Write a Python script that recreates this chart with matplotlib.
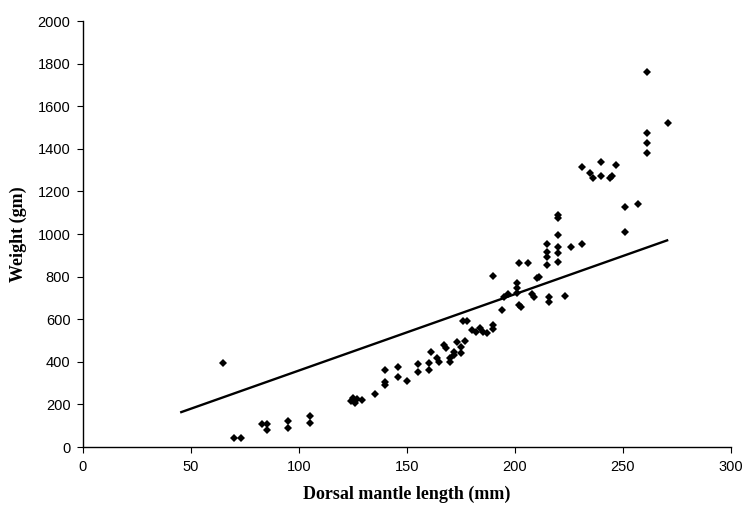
import matplotlib
matplotlib.use("Agg")
import matplotlib.pyplot as plt

length_mm = [65, 70, 73, 83, 85, 85, 95, 95, 105, 105,
             124, 125, 126, 127, 129, 135, 140, 140, 140, 146, 146, 150,
             155, 155, 160, 160, 161, 164, 165, 167, 168, 170, 170, 172, 172, 173,
             175, 175, 176, 178, 177, 180, 182, 184, 185, 187, 190, 190, 190,
             194, 195, 197, 201, 201, 201, 202, 206, 202, 203, 208, 209, 210, 211,
             215, 215, 215, 215, 216, 216, 220, 220, 220, 220, 220, 220, 223,
             226, 231, 231, 235, 236, 240, 240, 244, 245, 247, 251, 257, 251,
             261, 261, 261, 261, 271]
weight_gm = [395, 40, 40, 110, 110, 80, 120, 90, 145, 115,
             215, 230, 205, 225, 220, 250, 360, 305, 290, 375, 330, 310,
             390, 350, 395, 360, 445, 420, 400, 480, 465, 420, 400, 430, 445, 495,
             440, 470, 590, 590, 500, 550, 540, 560, 540, 535, 575, 555, 805,
             645, 705, 720, 770, 745, 725, 865, 865, 665, 655, 720, 705, 795, 800,
             955, 915, 890, 855, 705, 680, 1090, 1075, 995, 940, 910, 870, 710,
             940, 955, 1315, 1285, 1265, 1340, 1270, 1265, 1270, 1325, 1125, 1140, 1010,
             1760, 1475, 1425, 1380, 1520]

fit_x = [45, 271]
fit_y = [162, 972]

x_ticks = [0, 50, 100, 150, 200, 250, 300]
y_ticks = [0, 200, 400, 600, 800, 1000, 1200, 1400, 1600, 1800, 2000]

fig = plt.figure(figsize=(7.49, 5.16), dpi=100)
ax = fig.add_axes([0.1108, 0.1337, 0.865, 0.8256])

ax.plot(fit_x, fit_y, color="black", lw=1.7, solid_capstyle="butt", zorder=2)
ax.plot(length_mm, weight_gm, linestyle="none", marker="D", markersize=4.2,
        color="black", markeredgewidth=0, zorder=3)

ax.set_xlim(0, 300)
ax.set_ylim(0, 2000)
ax.set_xticks(x_ticks)
ax.set_yticks(y_ticks)
ax.set_xticklabels([str(v) for v in x_ticks], family="Liberation Sans", fontsize=10.5)
ax.set_yticklabels([str(v) for v in y_ticks], family="Liberation Sans", fontsize=10.5)
ax.tick_params(axis="both", direction="out", length=4, width=0.8, color="black", pad=5)

for s in ["top", "right"]:
    ax.spines[s].set_visible(False)
for s in ["left", "bottom"]:
    ax.spines[s].set_linewidth(1.0)
    ax.spines[s].set_color("black")

ax.set_xlabel("Dorsal mantle length (mm)", family="Liberation Serif", fontweight="bold",
              fontsize=13, labelpad=9)
ax.set_ylabel("Weight (gm)", family="Liberation Serif", fontweight="bold",
              fontsize=13, labelpad=8)

fig.savefig("out.png", dpi=100, facecolor="white")
